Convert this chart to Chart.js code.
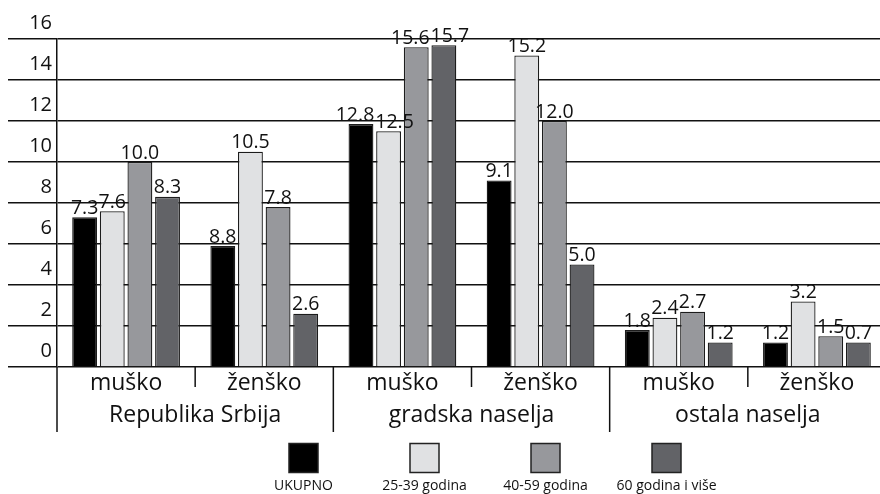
<!DOCTYPE html>
<html><head><meta charset="utf-8">
<script src="https://cdn.jsdelivr.net/npm/chart.js@4"></script>
<style>html,body{margin:0;padding:0;background:#fff;overflow:hidden;width:880px;height:494px}canvas{display:block}</style>
</head><body>
<canvas id="c" width="886" height="494" style="width:886px;height:494px"></canvas>
<script>
const subCategories = ['muško','ženško','muško','ženško','muško','ženško'];
const groupLabels = ['Republika Srbija','gradska naselja','ostala naselja'];
const seriesNames = ['UKUPNO','25-39 godina','40-59 godina','60 godina i više'];
const seriesColors = ['#000000','#e0e1e3','#97989c','#626367'];
// bar heights as drawn in the picture
const ukupno = [7.3, 5.9, 11.85, 9.1, 1.8, 1.2];
const age25_39 = [7.6, 10.5, 11.5, 15.2, 2.4, 3.2];
const age40_59 = [10.0, 7.8, 15.6, 12.0, 2.7, 1.5];
const age60plus = [8.3, 2.6, 15.7, 5.0, 1.2, 1.2];
// value labels as printed above the bars
const ukupnoLabels = ['7.3','8.8','12.8','9.1','1.8','1.2'];
const age25_39Labels = ['7.6','10.5','12.5','15.2','2.4','3.2'];
const age40_59Labels = ['10.0','7.8','15.6','12.0','2.7','1.5'];
const age60plusLabels = ['8.3','2.6','15.7','5.0','1.2','0.7'];
const yTicks = [0,2,4,6,8,10,12,14,16];

const seriesValues = [ukupno, age25_39, age40_59, age60plus];
const seriesLabels = [ukupnoLabels, age25_39Labels, age40_59Labels, age60plusLabels];
const INK = '#111111';

const decorPlugin = {
  id: 'decor',
  afterDatasetsDraw(chart) {
    const ctx = chart.ctx;
    ctx.save();
    ctx.fillStyle = INK;
    ctx.font = '19.5px "Open Sans"';
    ctx.textAlign = 'center';
    ctx.textBaseline = 'alphabetic';
    const nCat = subCategories.length, nDs = chart.data.datasets.length;
    for (let i = 0; i < nCat; i++) {
      const items = [];
      for (let di = 0; di < nDs; di++) {
        const bar = chart.getDatasetMeta(di).data[i];
        const text = seriesLabels[di][i];
        items.push({ text, x: bar.x, y: bar.y - 3.5, w: ctx.measureText(text).width });
      }
      // nudge neighbouring labels apart when they collide
      for (let k = 0; k < items.length - 1; k++) {
        const a = items[k], b = items[k + 1];
        if (Math.abs(a.y - b.y) < 12) {
          const overlap = (a.x + a.w / 2) - (b.x - b.w / 2);
          if (overlap > 0) { a.x -= overlap / 2 + 0.5; b.x += overlap / 2 + 0.5; }
        }
      }
      items.forEach(it => ctx.fillText(it.text, it.x, it.y));
    }
    ctx.restore();
  },
  afterDraw(chart) {
    const ctx = chart.ctx, xs = chart.scales.x, x2 = chart.scales.x2, area = chart.chartArea;
    ctx.save();
    ctx.strokeStyle = INK;
    ctx.lineWidth = 1.5;
    const n = subCategories.length;
    const step = xs.width / n;
    for (let i = 0; i <= n; i++) {
      const px = (i < n ? xs.getPixelForValue(i) - step / 2 : xs.getPixelForValue(n - 1) + step / 2);
      const long = i % 2 === 0;
      ctx.beginPath();
      ctx.moveTo(px, area.bottom);
      ctx.lineTo(px, long ? x2.bottom : xs.bottom - 11);
      ctx.stroke();
    }
    // legend: box above, text below
    const startX = 303.5, spacing = 121, box = 29, boxTop = 443.5;
    ctx.font = '14px "Open Sans"';
    ctx.textAlign = 'center';
    ctx.textBaseline = 'middle';
    chart.data.datasets.forEach((ds, di) => {
      const cx = startX + di * spacing;
      ctx.fillStyle = ds.backgroundColor;
      ctx.fillRect(cx - box / 2, boxTop, box, box);
      ctx.strokeStyle = '#222';
      ctx.lineWidth = 1.5;
      ctx.strokeRect(cx - box / 2, boxTop, box, box);
      ctx.fillStyle = INK;
      ctx.fillText(ds.label, cx, 486);
    });
    ctx.restore();
  }
};

function draw() {
  new Chart(document.getElementById('c'), {
    type: 'bar',
    data: {
      labels: subCategories,
      datasets: seriesNames.map((name, i) => ({
        label: name,
        data: seriesValues[i],
        backgroundColor: seriesColors[i],
        borderColor: '#1c1c1c',
        borderWidth: 1.3,
        categoryPercentage: 0.8,
        barPercentage: 0.9
      }))
    },
    options: {
      responsive: false,
      animation: false,
      devicePixelRatio: 1,
      layout: { padding: { top: 39, right: 0, bottom: 62, left: 0 } },
      plugins: { legend: { display: false }, tooltip: { enabled: false }, title: { display: false } },
      scales: {
        x: {
          type: 'category',
          position: 'bottom',
          weight: 1,
          grid: { display: false, drawTicks: false },
          border: { display: false },
          ticks: { color: INK, font: { size: 23, family: 'Open Sans' }, padding: 3, maxRotation: 0, autoSkip: false },
          afterFit(s) { s.height = 31; }
        },
        x2: {
          type: 'category',
          labels: groupLabels,
          position: 'bottom',
          weight: 2,
          offset: true,
          grid: { display: false, drawTicks: false },
          border: { display: false },
          ticks: { color: INK, font: { size: 23, family: 'Open Sans' }, padding: 4, maxRotation: 0, autoSkip: false },
          afterFit(s) { s.height = 34; }
        },
        y: {
          min: 0,
          max: 16,
          afterBuildTicks(s) { s.ticks = yTicks.map(v => ({ value: v })); },
          grid: { color: INK, lineWidth: 1.5, tickLength: 49, drawTicks: true },
          border: { display: true, color: INK, width: 1.5 },
          ticks: { color: INK, font: { size: 20, family: 'Open Sans' }, padding: -44, labelOffset: -16 },
          afterFit(s) { s.width = 57; }
        }
      }
    },
    plugins: [decorPlugin]
  });
}
if (document.fonts && document.fonts.load) {
  document.fonts.load('20px "Open Sans"').then(draw, draw);
} else { draw(); }
</script>
</body></html>
